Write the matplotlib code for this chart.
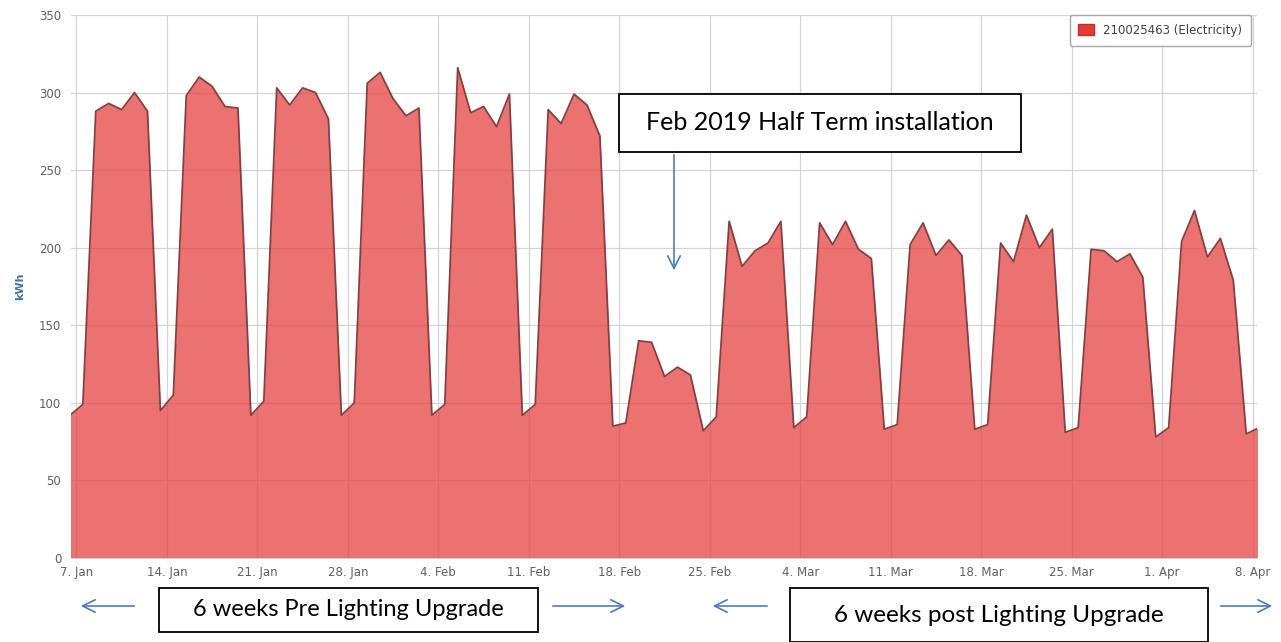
import matplotlib
matplotlib.use("Agg")
import matplotlib.pyplot as plt
from matplotlib.patches import Rectangle, Patch
import pandas as pd

# Daily electricity use (kWh)
dates = pd.date_range("2019-01-06 12:00", periods=93, freq="D")
kwh = [
    92, 99, 288, 293, 289, 300, 288,
    95, 105, 298, 310, 304, 291, 290,
    92, 101, 303, 292, 303, 300, 283,
    92, 100, 306, 313, 296, 285, 290,
    92, 99, 316, 287, 291, 278, 299,
    92, 99, 289, 280, 299, 292, 272,
    85, 87, 140, 139, 117, 123, 118,
    82, 91, 217, 188, 198, 203, 217,
    84, 91, 216, 202, 217, 199, 193,
    83, 86, 202, 216, 195, 205, 195,
    83, 86, 203, 191, 221, 200, 212,
    81, 84, 199, 198, 191, 196, 181,
    78, 84, 204, 224, 194, 206, 179,
    80, 84,
]
tick_dates = pd.date_range("2019-01-07", periods=14, freq="7D")
tick_labels = [f"{d.day}. {d.strftime('%b')}" for d in tick_dates]
series_name = "210025463 (Electricity)"

W, H = 1281, 642
fx = lambda x: x / W
fy = lambda y: 1 - y / H

fig = plt.figure(figsize=(W / 100, H / 100), dpi=100)
ax = fig.add_axes([fx(71), fy(558), (1257 - 71) / W, (558 - 15) / H])

fill_col = (0.90, 0.26, 0.26)
ax.fill_between(dates, kwh, color=fill_col, alpha=0.75, lw=0, zorder=2)
ax.plot(dates, kwh, color="#874040", lw=1.3, zorder=3)

ax.set_xlim(pd.Timestamp("2019-01-06 14:00"), pd.Timestamp("2019-04-08 08:00"))
ax.set_ylim(0, 350)
ax.set_yticks(range(0, 351, 50))
ax.set_xticks(tick_dates)
ax.set_xticklabels(tick_labels)
ax.grid(True, color="#d4d4d4", lw=0.9, zorder=1)
ax.set_axisbelow(True)
ax.tick_params(axis="both", length=0, labelsize=8.5, labelcolor="#606060")
ax.tick_params(axis="y", pad=7)
ax.tick_params(axis="x", pad=6)
for s in ["top", "right", "left"]:
    ax.spines[s].set_visible(False)
ax.spines["bottom"].set_color("#c0d0e0")
ax.set_ylabel("kWh", color="#4572a7", fontsize=8, fontweight="bold", labelpad=10)

leg = ax.legend(handles=[Patch(facecolor="#e53935", edgecolor="#c03030")],
                labels=[series_name], loc="upper right",
                bbox_to_anchor=(fx(1257), fy(9)), bbox_transform=fig.transFigure,
                fontsize=8.5, fancybox=True, framealpha=1, edgecolor="#a8a8a8",
                handlelength=1.3, handleheight=1.0, borderpad=0.75)
for t in leg.get_texts():
    t.set_color("#404040")

# Annotation boxes
def box(x0, y0, x1, y1, text, size):
    fig.add_artist(Rectangle((fx(x0), fy(y1)), (x1 - x0) / W, (y1 - y0) / H,
                             transform=fig.transFigure, facecolor="white",
                             edgecolor="black", lw=1.3, zorder=10))
    fig.text(fx((x0 + x1) / 2), fy((y0 + y1) / 2), text, ha="center", va="center",
             fontsize=size, family="Lato", color="black", zorder=11)

def arrow(x0, y0, x1, y1):
    ax.annotate("", xy=(fx(x1), fy(y1)), xytext=(fx(x0), fy(y0)),
                xycoords="figure fraction", textcoords="figure fraction",
                arrowprops=dict(arrowstyle="->,head_length=0.9,head_width=0.45",
                                color="#4a7cc4", lw=1.2), annotation_clip=False)

box(619, 94, 1021, 152, "Feb 2019 Half Term installation", 18)
arrow(674, 152, 674, 273)

box(159, 588, 538, 632, "6 weeks Pre Lighting Upgrade", 17)
box(790, 588, 1208, 642, "6 weeks post Lighting Upgrade", 17.5)
arrow(137, 606, 78, 606)
arrow(550, 606, 628, 606)
arrow(770, 606, 710, 606)
arrow(1218, 606, 1275, 606)

fig.savefig("out.png", dpi=100)
